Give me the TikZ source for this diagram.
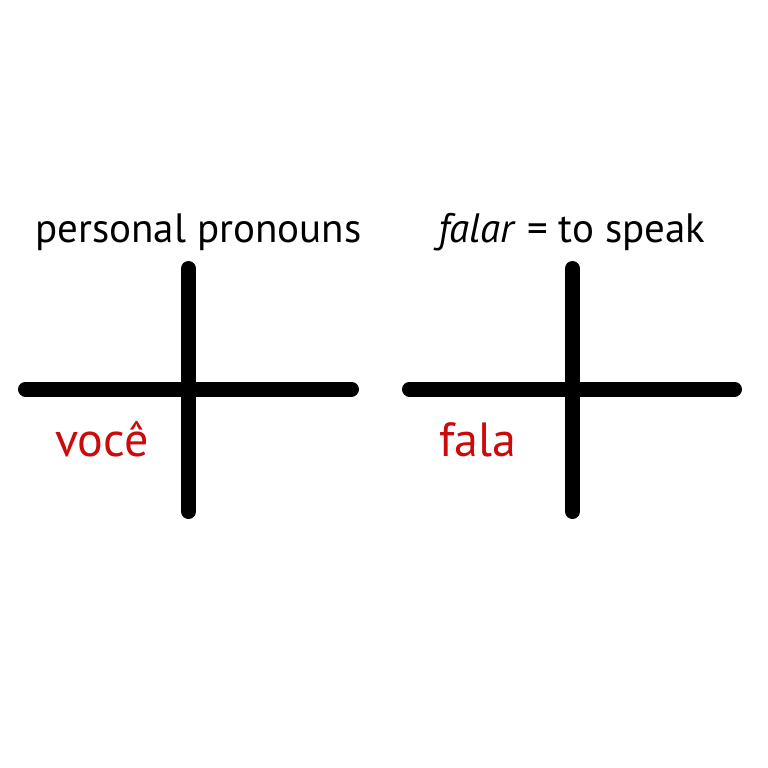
\documentclass[tikz,border=0pt]{standalone}
\usepackage{fontspec}
\setmainfont{PT Sans}
\definecolor{wordred}{HTML}{CC0A0A}
\begin{document}
\begin{tikzpicture}[x=1pt,y=-1pt,
  bar/.style={line width=15pt,line cap=round,black},
  head/.style={anchor=base west,inner sep=0pt,font=\fontsize{41}{49}\selectfont},
  word/.style={anchor=base west,inner sep=0pt,text=wordred,font=\fontsize{48}{56}\selectfont}]
\useasboundingbox[fill=white] (0,0) rectangle (768,768);
% left cross
\coordinate (lt) at (188.5,268.5);
\coordinate (lb) at (188.5,511.5);
\coordinate (ll) at (25.5,389);
\coordinate (lr) at (351.5,389);
\draw[bar] (lt) -- (lb);
\draw[bar] (ll) -- (lr);
% right cross
\coordinate (rt) at (572.5,268.5);
\coordinate (rb) at (572.5,511.5);
\coordinate (rl) at (409.5,389);
\coordinate (rr) at (734.5,389);
\draw[bar] (rt) -- (rb);
\draw[bar] (rl) -- (rr);
% texts
\node[head] (pp) at (35,242) {personal pronouns};
\node[head] (fs) at (438,242) {\textit{falar} = to speak};
\node[word] (vc) at (55,456) {você};
\node[word] (fl) at (439,456) {fala};
\end{tikzpicture}
\end{document}
